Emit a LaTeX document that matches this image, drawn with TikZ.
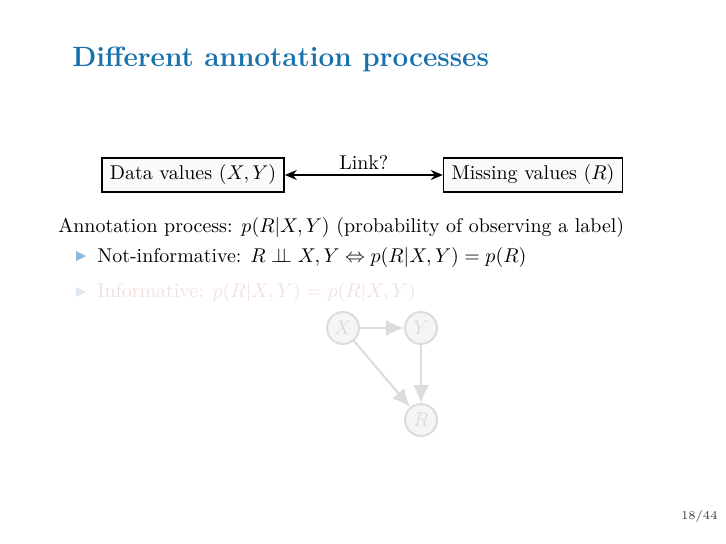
\documentclass[tikz,border=0pt]{standalone}
\usepackage{amsmath,amssymb}
\usetikzlibrary{arrows.meta}
\definecolor{titleblue}{RGB}{24,112,172}
\definecolor{bulletblue}{RGB}{140,185,220}
\definecolor{fadebullet}{RGB}{225,232,240}
\definecolor{fadetext}{RGB}{242,222,222}
\definecolor{nodeline}{RGB}{220,220,220}
\definecolor{nodefill}{RGB}{245,245,245}
\definecolor{boxfill}{RGB}{248,250,252}
\newcommand{\indepsym}{\mathrel{\perp\!\!\!\perp}}
\tikzset{
  txt/.style={inner sep=0pt, anchor=base west, font=\fontsize{10}{12}\selectfont},
  databox/.style={draw=black, fill=boxfill, line width=0.7pt, inner xsep=4pt, inner ysep=3.5pt, minimum height=16pt, font=\fontsize{10}{12}\selectfont},
  gnode/.style={circle, draw=nodeline, fill=nodefill, line width=1pt, minimum size=16pt, inner sep=0pt, text=nodeline, font=\fontsize{10}{12}\selectfont},
  garrow/.style={draw=nodeline, line width=1pt, -{Latex[length=9pt,width=8pt]}},
  bullet/.style={fill=bulletblue}
}
\begin{document}
\begin{tikzpicture}[x=0.017631cm,y=-0.017631cm]
\useasboundingbox (0,0) rectangle (726,544);
% title
\node[inner sep=0pt, anchor=base west, text=titleblue, font=\fontsize{14}{17}\selectfont\bfseries] (title) at (72,67) {Different annotation processes};
% boxes
\node[databox] (data) at (193,175) {Data values $(X,Y)$};
\node[databox] (miss) at (533,175) {Missing values $(R)$};
\draw[line width=0.8pt, {Stealth[length=6pt,width=5pt]}-{Stealth[length=6pt,width=5pt]}] (data) -- node[above, inner sep=2.5pt, font=\fontsize{10}{12}\selectfont] (link) {Link?} (miss);
% text
\node[txt] (ann) at (58,232) {Annotation process: $p(R|X,Y)$ (probability of observing a label)};
\fill[bulletblue] (76,251) -- (86,256) -- (76,261) -- cycle;
\node[txt] (noninf) at (97,262) {Not-informative: $R \indepsym X,Y \Leftrightarrow p(R|X,Y)=p(R)$};
\fill[fadebullet] (76,287) -- (86,292) -- (76,297) -- cycle;
\node[txt, text=fadetext] (inf) at (97,297) {Informative: $p(R|X,Y)=p(R|X,Y)$};
% graph
\node[gnode] (X) at (343,328) {$X$};
\node[gnode] (Y) at (421,328) {$Y$};
\node[gnode] (R) at (421,420) {$R$};
\draw[garrow] (X) -- (Y);
\draw[garrow] (Y) -- (R);
\draw[garrow] (X) -- (R);
% page number
\node[inner sep=0pt, anchor=base east, text=black!75, font=\fontsize{6}{7}\selectfont] (page) at (718,519) {18/44};
\end{tikzpicture}
\end{document}
